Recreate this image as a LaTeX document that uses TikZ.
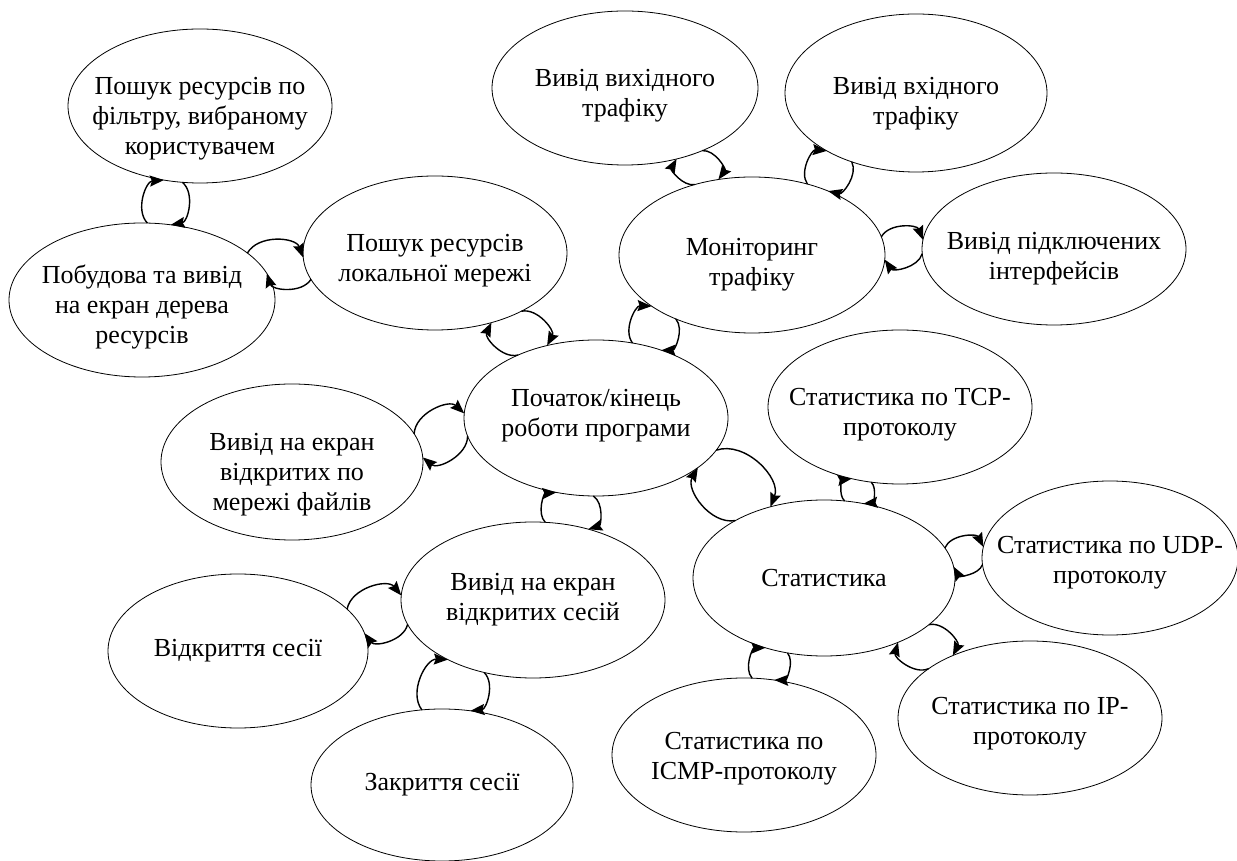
\documentclass[tikz,border=0pt]{standalone}
\usepackage{fontspec}
\setmainfont{Liberation Serif}
\usetikzlibrary{shapes.geometric,arrows.meta}
\tikzset{
  ell/.style={draw, ellipse, line width=0.8pt, inner sep=0pt, outer sep=0pt,
    minimum width=264pt, minimum height=154pt},
  lbl/.style={align=center, font=\fontsize{26}{30}\selectfont},
  arr/.style={line width=1.4pt, -{Stealth[length=14pt,width=11pt,inset=2pt]}, bend left=65},
}
\begin{document}
\begin{tikzpicture}[x=1pt,y=1pt]
\useasboundingbox (0,0) rectangle (1237,860);
\fill[white] (0,0) rectangle (1237,860);
% nodes
\node[ell, label={[lbl,yshift=-13pt]center:Пошук ресурсів по\\фільтру, вибраному\\користувачем}] (F) at (200,754) {};
\node[ell, minimum width=266pt, label={[lbl,yshift=-7pt]center:Побудова та вивід\\на екран дерева\\ресурсів}] (B) at (142,560) {};
\node[ell, label={[lbl,yshift=-8pt]center:Пошук ресурсів\\локальної мережі}] (L) at (435,607) {};
\node[ell, minimum width=266pt, label={[lbl,yshift=-8pt]center:Вивід вихідного\\трафіку}] (O) at (625,772) {};
\node[ell, minimum width=262pt, minimum height=158pt, label={[lbl,yshift=-11pt]center:Вивід вхідного\\трафіку}] (I) at (916,767) {};
\node[ell, minimum width=266pt, minimum height=156pt, label={[lbl,yshift=-10pt]center:Моніторинг\\трафіку}] (M) at (752,605) {};
\node[ell, minimum height=152pt, label={[lbl,yshift=-10pt]center:Вивід підключених\\інтерфейсів}] (P) at (1054,611) {};
\node[ell, minimum height=156pt, label={[lbl,yshift=2pt]center:Початок/кінець\\роботи програми}] (S) at (596,442) {};
\node[ell, label={[lbl,yshift=-8pt]center:Статистика по TCP-\\протоколу}] (T) at (900,453) {};
\node[ell, minimum width=262pt, minimum height=156pt, label={[lbl,yshift=-13pt]center:Вивід на екран\\відкритих по\\мережі файлів}] (V) at (292,398) {};
\node[ell, minimum height=156pt, label={[lbl]center:Вивід на екран\\відкритих сесій}] (Sess) at (533,260) {};
\node[ell, minimum width=262pt, minimum height=156pt, label={[lbl]center:Статистика}] (St) at (824,282) {};
\node[ell, minimum width=256pt, label={[lbl,yshift=-5pt]center:Статистика по UDP-\\протоколу}] (U) at (1110,302) {};
\node[ell, label={[lbl,yshift=-6pt]center:Статистика по IP-\\протоколу}] (IP) at (1030,142) {};
\node[ell, label={[lbl,yshift=-4pt]center:Статистика по\\ICMP-протоколу}] (ICMP) at (744,105) {};
\node[ell, minimum width=260pt, label={[lbl]center:Відкриття сесії}] (O2) at (238,209) {};
\node[ell, minimum width=262pt, minimum height=152pt, label={[lbl]center:Закриття сесії}] (C) at (442,75) {};
% connectors
\draw[arr] (B.86) to (F.244);
\draw[arr] (F.257) to (B.69);
\draw[arr] (B.24) to (L.182);
\draw[arr] (L.192) to (B.12);
\draw[arr] (L.326) to (S.124);
\draw[arr] (S.141) to (L.309);
\draw[arr] (S.64) to (M.207);
\draw[arr] (M.220) to (S.46);
\draw[arr] (M.129) to (O.306);
\draw[arr] (O.321) to (M.114);
\draw[arr] (M.52) to (I.213);
\draw[arr] (I.227) to (M.40);
\draw[arr] (M.8) to (P.176);
\draw[arr] (P.182) to (M.358);
\draw[arr] (V.13) to (S.178);
\draw[arr] (S.188) to (V.2);
\draw[arr] (Sess.81) to (S.242);
\draw[arr] (S.268) to (Sess.52);
\draw[arr] (S.345) to (St.127);
\draw[arr] (St.147) to (S.334);
\draw[arr] (St.75) to (T.236);
\draw[arr] (T.249) to (St.62);
\draw[arr] (St.14) to (U.175);
\draw[arr] (U.183) to (St.5);
\draw[arr] (St.336) to (IP.141);
\draw[arr] (IP.154) to (St.319);
\draw[arr] (ICMP.84) to (St.230);
\draw[arr] (St.244) to (ICMP.68);
\draw[arr] (O2.21) to (Sess.178);
\draw[arr] (Sess.191) to (O2.8);
\draw[arr] (C.105) to (Sess.215);
\draw[arr] (Sess.236) to (C.69);
\end{tikzpicture}
\end{document}
